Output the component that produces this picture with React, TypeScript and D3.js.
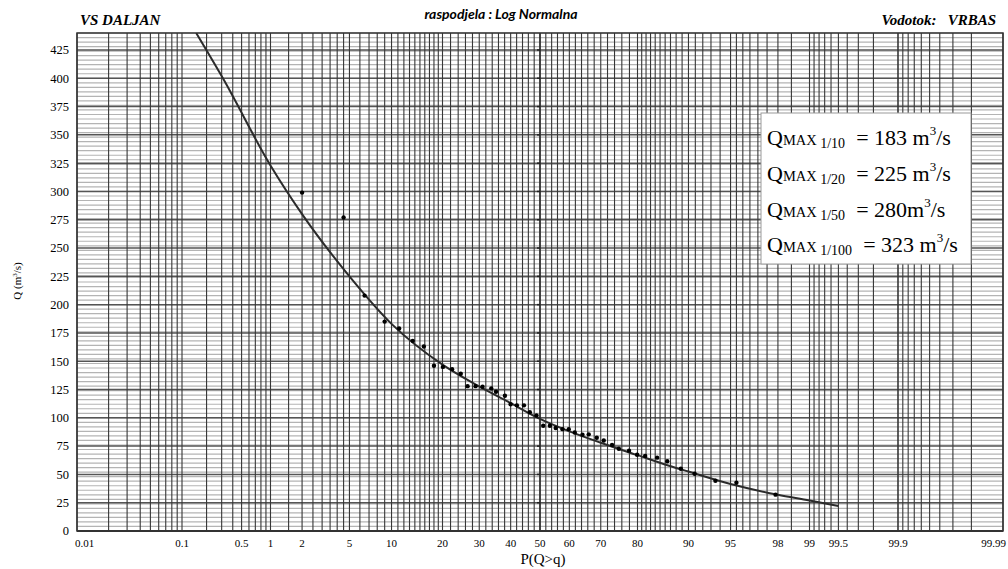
import React from 'react';
import * as d3 from 'd3';

// ---- data ---------------------------------------------------------------
// observed annual maxima: exceedance probability (%) and discharge (m3/s)
const sampleP = [2.0, 4.5, 6.5, 9.0, 11.2, 13.6, 15.8, 18.0, 20.1, 22.4, 24.7, 26.6, 28.9, 31.0, 33.7, 35.2, 38.1, 40.0, 42.1, 44.5, 46.5, 48.8, 51.1, 53.4, 55.4, 57.7, 59.8, 61.8, 64.3, 66.3, 68.8, 70.9, 73.3, 75.2, 77.9, 79.9, 81.8, 84.4, 86.4, 88.8, 90.9, 93.5, 95.5, 97.9];
const sampleQ = [299, 277, 208, 185, 179, 168, 163, 146, 145, 143, 139, 128, 128, 127.5, 126, 123, 119.5, 112, 111, 111, 105, 102, 93, 93, 91, 90, 90, 87, 85, 85.4, 82.4, 80, 76, 72.7, 71, 67.4, 66.3, 64.8, 61.6, 55, 50.6, 44.4, 42.7, 32.1];

// fitted log-normal distribution curve
const fitP = [0.15, 0.31, 1, 2, 5, 10, 20, 28.2, 40, 50, 60, 70, 80, 86.9, 90, 95, 98, 99, 99.5];
const fitQ = [440, 400, 323, 280, 225, 183, 147, 130.6, 113, 99, 88, 78, 67, 57.4, 52.5, 41.5, 32, 27, 22];

// design discharges by return period
const returnPeriods = ['1/10', '1/20', '1/50', '1/100'];
const designQ = [183, 225, 280, 323];
const unitGap = [' ', ' ', '', ' '];

// axis ticks
const yTickValues = [0, 25, 50, 75, 100, 125, 150, 175, 200, 225, 250, 275, 300, 325, 350, 375, 400, 425];
const xTickLabels = ['0.01', '0.1', '0.5', '1', '2', '5', '10', '20', '30', '40', '50', '60', '70', '80', '90', '95', '98', '99', '99.5', '99.9', '99.99'];

// ---- probability paper scale --------------------------------------------
function probit(p: number): number {
  const a = [-3.969683028665376e1, 2.209460984245205e2, -2.759285104469687e2, 1.38357751867269e2, -3.066479806614716e1, 2.506628277459239];
  const b = [-5.447609879822406e1, 1.615858368580409e2, -1.556989798598866e2, 6.680131188771972e1, -1.328068155288572e1];
  const c = [-7.784894002430293e-3, -3.223964580411365e-1, -2.400758277161838, -2.549732539343734, 4.374664141464968, 2.938163982698783];
  const d = [7.784695709041462e-3, 3.224671290700398e-1, 2.445134137142996, 3.754408661907416];
  const pl = 0.02425;
  if (p < pl) {
    const q = Math.sqrt(-2 * Math.log(p));
    return (((((c[0] * q + c[1]) * q + c[2]) * q + c[3]) * q + c[4]) * q + c[5]) / ((((d[0] * q + d[1]) * q + d[2]) * q + d[3]) * q + 1);
  }
  if (p > 1 - pl) {
    const q = Math.sqrt(-2 * Math.log(1 - p));
    return -(((((c[0] * q + c[1]) * q + c[2]) * q + c[3]) * q + c[4]) * q + c[5]) / ((((d[0] * q + d[1]) * q + d[2]) * q + d[3]) * q + 1);
  }
  const q = p - 0.5;
  const r = q * q;
  return ((((((a[0] * r + a[1]) * r + a[2]) * r + a[3]) * r + a[4]) * r + a[5]) * q) / (((((b[0] * r + b[1]) * r + b[2]) * r + b[3]) * r + b[4]) * r + 1);
}

const W = 1008;
const H = 569;
const L = 77;
const R = 1003;
const T = 33;
const B = 531;
const TAIL = 105;

const zScale = d3.scaleLinear().domain([probit(0.001), probit(0.999)]).range([L + TAIL, R - TAIL]);
const leftTail = d3.scaleLog().domain([0.0001, 0.001]).range([L, L + TAIL]);
const rightTail = d3.scaleLog().domain([0.001, 0.0001]).range([R - TAIL, R]);

function x(pct: number): number {
  const p = pct / 100;
  if (p < 0.001) return leftTail(p);
  if (p > 0.999) return rightTail(1 - p);
  return zScale(probit(p));
}

const y = d3.scaleLinear().domain([0, 440]).range([B, T]);

// vertical rulings of the probability paper
const rulings: number[] = [
  ...d3.range(0.01, 0.1, 0.01),
  ...d3.range(0.1, 1, 0.1),
  ...d3.range(1, 5, 0.5),
  ...d3.range(5, 20, 1),
  ...d3.range(20, 80, 2),
  ...d3.range(80, 95, 1),
  ...d3.range(95, 99, 0.5),
  ...d3.range(99, 99.9, 0.1),
  ...d3.range(99.9, 99.995, 0.01),
];

const minorY = d3.range(0, 441, 4);

const serif = '"Liberation Serif", "Times New Roman", Times, serif';

export default function App() {
  const line = d3
    .line<number>()
    .x((_, i) => x(fitP[i]))
    .y((q) => y(q))
    .curve(d3.curveMonotoneX);

  return (
    <svg width={W} height={H} style={{ position: 'absolute', left: 0, top: 0, background: '#fff' }}>
      <defs>
        <clipPath id="plot">
          <rect x={L} y={T} width={R - L} height={B - T} />
        </clipPath>
      </defs>

      {/* horizontal minor lines */}
      {minorY.map((v) => (
        <line key={'my' + v} x1={L} x2={R} y1={y(v)} y2={y(v)} stroke="#b4b4b4" strokeWidth={1.2} />
      ))}
      {/* horizontal major lines */}
      {yTickValues.map((v) => (
        <line key={'My' + v} x1={L} x2={R} y1={y(v)} y2={y(v)} stroke="#555" strokeWidth={1.5} />
      ))}
      {/* vertical rulings */}
      {rulings.map((p, i) => (
        <line key={'v' + i} x1={x(p)} x2={x(p)} y1={T} y2={B} stroke="#363636" strokeWidth={1.1} />
      ))}

      {/* median axis with ticks */}
      <line x1={x(50)} x2={x(50)} y1={T} y2={B} stroke="#2a2a2a" strokeWidth={1.5} />
      {yTickValues.map((v) => (
        <line key={'t' + v} x1={x(50) - 3} x2={x(50)} y1={y(v)} y2={y(v)} stroke="#222" strokeWidth={1.5} />
      ))}

      {/* frame */}
      <rect x={L} y={T} width={R - L} height={B - T} fill="none" stroke="#333" strokeWidth={1.5} />
      <line x1={L} x2={R} y1={B} y2={B} stroke="#333" strokeWidth={2} />

      {/* fitted curve */}
      <path d={line(fitQ) || ''} fill="none" stroke="#2b2b2b" strokeWidth={2} clipPath="url(#plot)" />

      {/* observations */}
      {sampleQ.map((q, i) => (
        <circle key={'s' + i} cx={x(sampleP[i])} cy={y(q)} r={2.2} fill="#000" />
      ))}

      {/* design discharge box */}
      <rect x={761} y={113} width={210} height={151} fill="#fff" stroke="#9a9a9a" strokeWidth={1} />
      {returnPeriods.map((rp, i) => (
        <text key={'lg' + i} x={767} y={145 + i * 35.8} fontFamily={serif} fill="#000" style={{ whiteSpace: 'pre' }}>
          <tspan fontSize={22}>Q</tspan>
          <tspan fontSize={14.5}>MAX</tspan>
          <tspan fontSize={14} dy={3}>{' ' + rp}</tspan>
          <tspan fontSize={22} dy={-3}>{'  = ' + designQ[i] + unitGap[i] + 'm'}</tspan>
          <tspan fontSize={13} dy={-10}>3</tspan>
          <tspan fontSize={22} dy={10}>/s</tspan>
        </text>
      ))}

      {/* y tick labels */}
      {yTickValues.map((v) => (
        <text key={'yl' + v} x={69} y={y(v)} dy="0.35em" textAnchor="end" fontFamily={serif} fontSize={12.5} fill="#000">
          {v}
        </text>
      ))}

      {/* x tick labels */}
      {xTickLabels.map((s, i) => {
        const last = i === xTickLabels.length - 1;
        const first = i === 0;
        return (
          <text
            key={'xl' + s}
            x={first ? L - 2 : last ? R + 3 : x(+s)}
            y={547}
            textAnchor={first ? 'start' : last ? 'end' : 'middle'}
            fontFamily={serif}
            fontSize={11}
            fill="#000"
          >
            {s}
          </text>
        );
      })}

      {/* axis titles */}
      <text x={543} y={564} textAnchor="middle" fontFamily={serif} fontSize={15} fill="#000">
        P(Q&gt;q)
      </text>
      <text transform="translate(21,281) rotate(-90)" textAnchor="middle" fontFamily={serif} fontSize={11} fill="#000">
        Q (m<tspan fontSize={7} dy={-4}>3</tspan>
        <tspan dy={4}>/s)</tspan>
      </text>

      {/* headings */}
      <text x={80} y={25} fontFamily={serif} fontSize={15} fontWeight="bold" fontStyle="italic" fill="#000">
        VS DALJAN
      </text>
      <text x={501} y={19} textAnchor="middle" fontFamily="Lato, 'Open Sans', sans-serif" fontSize={14} fontWeight="bold" fontStyle="italic" fill="#000">
        raspodjela : Log Normalna
      </text>
      <text x={996} y={25} textAnchor="end" fontFamily={serif} fontSize={15} fontWeight="bold" fontStyle="italic" fill="#000" style={{ whiteSpace: 'pre' }}>
        {'Vodotok:   VRBAS'}
      </text>
    </svg>
  );
}
